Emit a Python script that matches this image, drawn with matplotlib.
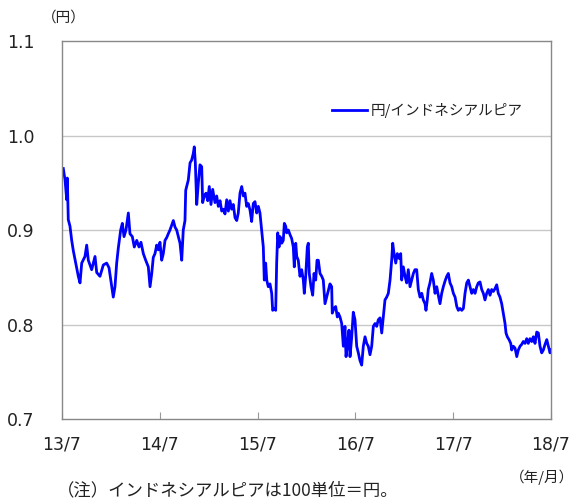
import matplotlib
matplotlib.use("Agg")
import matplotlib.pyplot as plt
from matplotlib.ticker import FixedLocator

# months since 2013/07
months = [0.16, 0.37, 0.58, 0.65, 0.77, 0.98, 1.19, 1.39, 1.68, 2.0, 2.21, 2.42, 2.82, 3.03, 3.23, 3.64,
          4.05, 4.26, 4.66, 5.07, 5.48, 5.77, 6.1, 6.29, 6.5, 6.71, 6.91, 7.2, 7.4, 7.61, 7.85, 8.14,
          8.34, 8.63, 8.87, 9.17, 9.45, 9.69, 9.98, 10.27, 10.59,
          10.8, 11.01, 11.2, 11.41, 11.62, 11.82, 12.02, 12.23, 12.43, 12.64, 12.85, 13.04, 13.25, 13.46,
          13.66, 13.87, 14.07, 14.27, 14.48, 14.69, 14.88, 15.09, 15.18, 15.3, 15.5, 15.71, 15.91, 16.11,
          16.23, 16.36, 16.53, 16.72, 16.93, 17.14, 17.26, 17.46, 17.67, 17.88, 18.07, 18.28, 18.49,
          18.77, 18.98, 19.18, 19.39, 19.6, 19.79, 20.0, 20.21, 20.41, 20.61, 20.82, 21.02, 21.23, 21.44,
          21.63, 21.84, 22.05, 22.25,
          22.45, 22.66, 22.86, 23.07, 23.27, 23.47, 23.68, 23.89, 24.09, 24.29, 24.5, 24.7, 24.82, 24.99,
          25.12, 25.31, 25.52, 25.73, 25.85, 26.05, 26.22, 26.34, 26.47, 26.63, 26.75, 26.96, 27.15,
          27.28, 27.45, 27.57, 27.77, 27.98, 28.18, 28.38, 28.5, 28.68, 28.8, 28.99, 29.2, 29.41, 29.61,
          29.73, 29.9, 30.1, 30.22, 30.34, 30.55, 30.76, 30.92, 31.13, 31.29, 31.45, 31.66, 31.87, 32.06,
          32.27, 32.48, 32.68, 32.88, 33.09, 33.16, 33.37, 33.58, 33.78, 33.9,
          34.11, 34.32, 34.52, 34.72, 34.85, 35.01, 35.21, 35.34, 35.55, 35.74, 35.95, 36.16, 36.36,
          36.56, 36.77, 36.97, 37.18, 37.39, 37.58, 37.79, 38.0, 38.2, 38.41, 38.61, 38.81, 39.02, 39.23,
          39.42, 39.63, 39.84, 40.04, 40.25, 40.45, 40.58, 40.74, 40.95, 41.14, 41.35, 41.56, 41.68,
          41.88, 42.09, 42.29, 42.49, 42.7, 42.91, 43.11, 43.31, 43.52, 43.72, 43.93, 44.14, 44.33,
          44.54, 44.66, 44.82, 44.94, 45.15, 45.36, 45.56, 45.77, 45.98, 46.17, 46.38, 46.59, 46.79,
          47.0, 47.21, 47.4,
          47.61, 47.82, 48.02, 48.23, 48.44, 48.63, 48.84, 49.05, 49.25, 49.45, 49.66, 49.86, 50.06,
          50.27, 50.47, 50.68, 50.89, 51.08, 51.29, 51.5, 51.7, 51.9, 52.11, 52.31, 52.52, 52.72, 52.93,
          53.13, 53.34, 53.53, 53.74, 53.95, 54.15, 54.36, 54.48, 54.64, 54.85, 55.06, 55.18, 55.38,
          55.59, 55.8, 55.99, 56.2, 56.41, 56.6, 56.81, 57.02, 57.21, 57.42, 57.63, 57.83, 58.04, 58.25,
          58.45, 58.65, 58.86, 59.06, 59.27, 59.48, 59.68, 59.88, 60.0]

jpy_idr = [0.965, 0.953, 0.932, 0.955, 0.911, 0.904, 0.889, 0.878, 0.865, 0.851, 0.844, 0.865, 0.872, 0.884,
           0.868, 0.858, 0.872, 0.855, 0.851, 0.863, 0.865, 0.86, 0.84, 0.829, 0.84, 0.865, 0.881, 0.9,
           0.907, 0.893, 0.9, 0.918, 0.896, 0.893, 0.882, 0.889, 0.882, 0.887, 0.875, 0.868, 0.861,
           0.84, 0.854, 0.871, 0.875, 0.884, 0.879, 0.887, 0.868, 0.875, 0.889, 0.892, 0.896, 0.9, 0.905,
           0.91, 0.903, 0.9, 0.893, 0.886, 0.868, 0.9, 0.91, 0.942, 0.946, 0.953, 0.971, 0.974, 0.981,
           0.988, 0.971, 0.927, 0.949, 0.969, 0.967, 0.929, 0.936, 0.939, 0.931, 0.946, 0.927, 0.943,
           0.929, 0.936, 0.925, 0.931, 0.92, 0.922, 0.917, 0.932, 0.92, 0.931, 0.922, 0.927, 0.913, 0.91,
           0.918, 0.939, 0.946, 0.936,
           0.939, 0.925, 0.928, 0.921, 0.909, 0.928, 0.93, 0.918, 0.925, 0.918, 0.9, 0.882, 0.847, 0.865,
           0.847, 0.84, 0.843, 0.833, 0.815, 0.817, 0.815, 0.865, 0.897, 0.882, 0.893, 0.886, 0.889,
           0.907, 0.904, 0.897, 0.9, 0.895, 0.891, 0.882, 0.861, 0.886, 0.872, 0.868, 0.851, 0.858, 0.847,
           0.833, 0.851, 0.882, 0.886, 0.854, 0.84, 0.831, 0.854, 0.847, 0.868, 0.868, 0.854, 0.851, 0.847,
           0.822, 0.829, 0.836, 0.843, 0.84, 0.812, 0.817, 0.819, 0.808, 0.812,
           0.808, 0.801, 0.777, 0.798, 0.766, 0.777, 0.794, 0.766, 0.787, 0.813, 0.805, 0.777, 0.77,
           0.762, 0.757, 0.777, 0.787, 0.78, 0.777, 0.768, 0.777, 0.798, 0.801, 0.798, 0.805, 0.807, 0.791,
           0.808, 0.826, 0.829, 0.833, 0.847, 0.868, 0.886, 0.875, 0.865, 0.875, 0.87, 0.875, 0.847,
           0.861, 0.851, 0.844, 0.858, 0.84, 0.847, 0.854, 0.858, 0.858, 0.837, 0.829, 0.833, 0.826,
           0.822, 0.815, 0.826, 0.837, 0.844, 0.854, 0.847, 0.833, 0.84, 0.831, 0.822, 0.833, 0.84,
           0.846, 0.851, 0.854,
           0.844, 0.84, 0.833, 0.829, 0.819, 0.815, 0.817, 0.815, 0.817, 0.833, 0.844, 0.847, 0.84,
           0.833, 0.837, 0.833, 0.84, 0.844, 0.845, 0.837, 0.833, 0.826, 0.833, 0.837, 0.831, 0.837, 0.835,
           0.838, 0.842, 0.833, 0.829, 0.822, 0.812, 0.801, 0.791, 0.787, 0.784, 0.78, 0.773, 0.777,
           0.775, 0.766, 0.773, 0.777, 0.779, 0.782, 0.78, 0.785, 0.78, 0.785, 0.782, 0.787, 0.78, 0.792,
           0.791, 0.777, 0.77, 0.773, 0.779, 0.784, 0.777, 0.77, 0.773]

x_ticks = [0, 12, 24, 36, 48, 60]
x_labels = ["13/7", "14/7", "15/7", "16/7", "17/7", "18/7"]
y_ticks = [0.7, 0.8, 0.9, 1.0, 1.1]
y_labels = ["0.7", "0.8", "0.9", "1.0", "1.1"]
series_name = "円/インドネシアルピア"

JP = ["Noto Sans CJK JP", "DejaVu Sans"]

fig = plt.figure(figsize=(5.76, 5.0), dpi=100)
ax = fig.add_axes([62/576, 1-419/500, (551-62)/576, (419-41)/500])

ax.plot(months, jpy_idr, color="#0000FF", lw=2.0, label=series_name, solid_joinstyle="round")

ax.set_xlim(0, 60)
ax.set_ylim(0.7, 1.1)
ax.set_xticks(x_ticks)
ax.set_xticklabels(x_labels, fontsize=12.5, color="#222222")
ax.set_yticks(y_ticks)
ax.set_yticklabels(y_labels, fontsize=12.5, color="#222222")
ax.tick_params(axis="x", direction="in", length=5, width=0.8, color="#999999", pad=12)
ax.tick_params(axis="y", length=0, pad=20)
for s in ax.spines.values():
    s.set_color("#888888")
    s.set_linewidth(1.0)
for yv in [0.8, 0.9, 1.0]:
    ax.axhline(yv, color="#C8C8C8", lw=1.0, zorder=0)

leg = ax.legend(loc="center left", bbox_to_anchor=(0.552, 0.817), frameon=False,
                prop={"family": JP, "size": 10.5}, handlelength=2.4, handletextpad=0.25,
                borderpad=0, borderaxespad=0)
for t in leg.get_texts():
    t.set_color("#222222")

fig.text(42/576, 1-18/500, "（円）", fontsize=10.5, family=JP, va="center", ha="left", color="#222222")
fig.text(574/576, 1-477/500, "（年/月）", fontsize=10.5, family=JP, va="center", ha="right", color="#222222")
fig.text(57/576, 1-490/500, "（注）インドネシアルピアは100単位＝円。", fontsize=12.5, family=JP,
         va="center", ha="left", color="#222222")

fig.savefig("out.png", dpi=100)
